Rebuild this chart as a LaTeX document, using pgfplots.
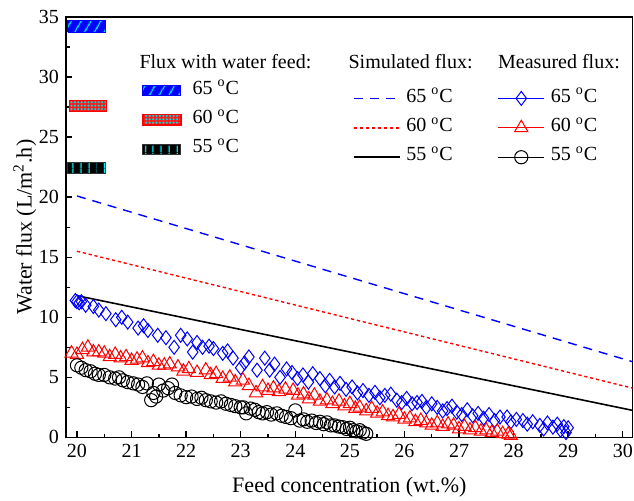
\documentclass[border=0pt]{standalone}
\usepackage{fontspec}
\setmainfont{Liberation Serif}
\usepackage{pgfplots}
\pgfplotsset{compat=1.18}
\usetikzlibrary{patterns,patterns.meta}

\pgfplotsset{
  base/.style={width=283pt, height=210pt, scale only axis,
    xmin=19.8, xmax=30.18, ymin=0, ymax=35},
  lgd/.style={base, hide axis, legend cell align=left,
    legend style={draw=none, fill=none, inner sep=0pt, outer sep=0pt,
      anchor=north west, font=\fontsize{10}{12}\selectfont,
      row sep=0pt, column sep=3pt,
      nodes={inner sep=0pt, text height=9.2pt, text depth=5.5pt}}},
  linelgd/.style={legend image code/.code={%
      \draw[mark repeat=2, mark phase=2, ##1] plot coordinates {(0pt,0pt) (11.5pt,0pt) (23pt,0pt)};}},
  barlgd/.style={legend image code/.code={%
      \draw[##1] (0pt,-2.6pt) rectangle (19pt,2.6pt);}},
}
\tikzset{
  bar65/.style={draw=blue, fill=blue, line width=0.5pt,
    postaction={pattern={Lines[angle=60,distance=4pt,line width=0.6pt]}, pattern color=cyan}},
  bar60/.style={draw=red, fill=red!90, line width=0.6pt,
    postaction={pattern={Dots[distance=1.7pt,radius=0.6pt]}, pattern color=cyan!70!teal}},
  bar55/.style={draw=black!80, fill=black, line width=0.5pt,
    postaction={pattern={Lines[angle=90,distance=4pt,line width=0.6pt]}, pattern color=cyan}},
}

\begin{document}
\begin{tikzpicture}
\begin{axis}[base, name=main,
  clip=false,
  axis line style={line width=0.8pt},
  xtick={20,...,30}, ytick={0,5,...,35},
  minor x tick num=1, minor y tick num=1,
  tick align=inside, tick pos=left,
  major tick length=3.2pt, minor tick length=1.8pt,
  every tick/.style={line width=0.7pt, black},
  ticklabel style={font=\fontsize{10}{12}\selectfont},
  /pgf/number format/assume math mode=true,
  label style={font=\fontsize{11}{13}\selectfont},
  xlabel={Feed concentration (wt.\%)},
  ylabel={Water flux (L/m\textsuperscript{2}.h)},
  xlabel style={yshift=-2.5pt},
  ylabel style={yshift=-5.5pt},
]
% water feed flux bars
\addplot[bar65] coordinates {(19.83,33.75)(20.52,33.75)(20.52,34.7)(19.83,34.7)(19.83,33.75)};
\addplot[bar60] coordinates {(19.86,27.1)(20.54,27.1)(20.54,28.05)(19.86,28.05)(19.86,27.1)};
\addplot[bar55] coordinates {(19.83,21.97)(20.52,21.97)(20.52,22.9)(19.83,22.9)(19.83,21.97)};

% simulated
\addplot[blue, line width=0.7pt, dash pattern=on 4.5pt off 3.5pt] coordinates {(20,20.1)(30.18,6.3)};
\addplot[red, line width=0.7pt, dash pattern=on 1.6pt off 1.4pt] coordinates {(20,15.5)(30.18,4.1)};
\addplot[black, line width=0.8pt] coordinates {(20,11.8)(30.18,2.25)};

% measured 65 C
\addplot[only marks, blue, mark=diamond, mark size=3.5pt, line width=0.5pt] coordinates {
(19.97,11.4)(20.0,11.3)(20.04,11.2)(20.08,11.3)(20.16,11.0)(20.3,10.9)(20.4,10.6)(20.53,10.3)
(20.71,9.8)(20.82,10.0)(20.93,9.6)(21.12,9.1)(21.22,9.3)(21.3,8.9)(21.48,8.5)(21.63,8.3)
(21.78,7.5)(21.9,8.5)(22.02,8.2)(22.12,7.1)(22.2,7.9)(22.3,7.5)(22.42,7.6)(22.5,7.4)
(22.67,7.0)(22.76,7.2)(22.86,6.6)(23.0,5.8)(23.07,6.2)(23.15,6.7)(23.3,5.6)(23.44,6.6)
(23.53,5.6)(23.62,6.1)(23.72,5.0)(23.84,5.7)(23.94,5.4)(24.04,4.9)(24.14,5.2)(24.24,4.6)
(24.32,5.3)(24.45,4.9)(24.55,4.3)(24.63,4.75)(24.72,4.2)(24.82,4.5)(24.93,4.0)(25.04,4.2)
(25.14,3.7)(25.24,3.9)(25.35,3.5)(25.46,3.75)(25.55,3.3)(25.64,3.5)(25.75,3.6)(25.86,3.1)
(25.95,2.9)(26.04,3.25)(26.14,2.8)(26.23,2.9)(26.32,3.0)(26.4,2.5)(26.5,2.8)(26.6,2.5)
(26.7,2.2)(26.78,2.4)(26.87,2.6)(26.96,2.1)(27.05,1.9)(27.15,2.3)(27.25,1.8)(27.35,2.0)
(27.45,1.6)(27.55,1.9)(27.65,1.4)(27.75,1.7)(27.88,1.7)(27.95,1.3)(28.05,1.5)(28.17,1.4)
(28.25,1.1)(28.35,1.3)(28.48,1.0)(28.55,0.7)(28.62,1.2)(28.72,0.85)(28.8,1.1)(28.86,0.6)
(28.92,0.9)(28.96,0.4)(29.0,0.8)};

% measured 60 C
\addplot[only marks, red, mark=triangle, mark size=3.8pt, line width=0.5pt] coordinates {
(19.9,7.0)(20.0,6.9)(20.1,7.3)(20.2,7.5)(20.3,7.1)(20.4,7.1)(20.5,7.0)(20.6,6.7)
(20.7,6.9)(20.8,6.6)(20.9,6.7)(21.0,6.4)(21.1,6.5)(21.2,6.6)(21.3,6.2)(21.4,6.3)
(21.5,6.0)(21.6,6.0)(21.7,6.1)(21.85,5.85)(21.95,5.5)(22.05,5.7)(22.2,5.4)(22.36,5.6)
(22.45,5.2)(22.55,5.3)(22.67,4.9)(22.8,5.0)(22.9,4.6)(23.04,4.75)(23.15,4.3)(23.28,3.7)
(23.4,4.2)(23.5,3.9)(23.6,4.1)(23.7,3.8)(23.82,4.0)(23.96,3.9)(24.05,3.5)(24.15,3.6)
(24.25,3.2)(24.35,3.5)(24.45,3.0)(24.58,3.1)(24.68,2.8)(24.8,3.0)(24.9,2.6)(25.0,2.8)
(25.1,2.4)(25.18,2.5)(25.3,2.2)(25.4,2.4)(25.5,2.0)(25.6,2.1)(25.7,1.8)(25.79,1.7)
(25.9,1.9)(26.0,1.5)(26.1,1.6)(26.2,1.3)(26.3,1.4)(26.4,1.2)(26.5,1.0)(26.6,1.2)
(26.7,0.9)(26.8,1.1)(26.9,1.0)(27.0,0.7)(27.1,0.9)(27.2,0.6)(27.3,0.8)(27.4,0.5)
(27.5,0.6)(27.6,0.4)(27.7,0.5)(27.8,0.3)(27.9,0.25)(27.95,0.15)};

% measured 55 C
\addplot[only marks, black, mark=o, mark size=3.3pt, line width=0.5pt] coordinates {
(20.0,6.0)(20.08,5.8)(20.16,5.6)(20.25,5.5)(20.33,5.3)(20.4,5.2)(20.5,5.2)(20.6,5.0)
(20.7,4.9)(20.77,5.0)(20.84,4.75)(20.93,4.6)(21.03,4.5)(21.12,4.4)(21.2,4.2)(21.28,4.5)
(21.36,3.1)(21.4,3.7)(21.45,3.4)(21.5,4.4)(21.58,3.9)(21.67,4.1)(21.74,4.4)(21.8,3.7)
(21.9,3.5)(22.0,3.35)(22.1,3.4)(22.2,3.2)(22.28,3.3)(22.36,3.1)(22.45,3.0)(22.55,2.9)
(22.64,3.0)(22.73,2.8)(22.82,2.7)(22.9,2.6)(23.0,2.5)(23.05,2.5)(23.1,2.0)(23.18,2.4)
(23.26,2.3)(23.33,2.1)(23.4,2.0)(23.48,2.1)(23.56,1.9)(23.66,2.0)(23.75,1.8)(23.83,1.7)
(23.92,1.6)(24.0,2.25)(24.08,1.4)(24.15,1.5)(24.22,1.3)(24.3,1.4)(24.38,1.2)(24.45,1.3)
(24.52,1.1)(24.58,1.25)(24.65,1.0)(24.72,1.0)(24.8,0.9)(24.87,0.85)(24.94,0.7)(25.0,0.8)
(25.06,0.6)(25.12,0.5)(25.18,0.6)(25.24,0.4)(25.3,0.3)};

\node[anchor=west, font=\fontsize{10}{12}\selectfont, inner sep=0pt] at (rel axis cs:0.129,0.8936) {Flux with water feed:};
\node[anchor=west, font=\fontsize{10}{12}\selectfont, inner sep=0pt] at (rel axis cs:0.498,0.8936) {Simulated flux:};
\node[anchor=west, font=\fontsize{10}{12}\selectfont, inner sep=0pt] at (rel axis cs:0.762,0.8936) {Measured flux:};
\end{axis}

% legend: water feed
\begin{axis}[lgd, barlgd, legend style={at={(0.1346,0.8605)}, column sep=5.5pt}]
\addlegendimage{bar65}\addlegendentry{65 \textsuperscript{o}C}
\addlegendimage{bar60}\addlegendentry{60 \textsuperscript{o}C}
\addlegendimage{bar55}\addlegendentry{55 \textsuperscript{o}C}
\end{axis}

% legend: simulated
\begin{axis}[lgd, linelgd, legend style={at={(0.506,0.8414)}}]
\addlegendimage{blue, line width=0.7pt, dash pattern=on 4.5pt off 3.5pt}\addlegendentry{65 \textsuperscript{o}C}
\addlegendimage{red, line width=0.7pt, dash pattern=on 1.6pt off 1.4pt}\addlegendentry{60 \textsuperscript{o}C}
\addlegendimage{black, line width=0.8pt}\addlegendentry{55 \textsuperscript{o}C}
\end{axis}

% legend: measured
\begin{axis}[lgd, linelgd, legend style={at={(0.762,0.8414)}}]
\addlegendimage{blue, mark=diamond, mark size=3.5pt, line width=0.5pt}\addlegendentry{65 \textsuperscript{o}C}
\addlegendimage{red, mark=triangle, mark size=3.8pt, line width=0.5pt}\addlegendentry{60 \textsuperscript{o}C}
\addlegendimage{black, mark=o, mark size=3.3pt, line width=0.5pt}\addlegendentry{55 \textsuperscript{o}C}
\end{axis}

\pgfresetboundingbox
\path ([shift={(-33pt,-31.5pt)}]main.south west) rectangle ([shift={(0.7pt,8.5pt)}]main.north east);
\end{tikzpicture}
\end{document}
